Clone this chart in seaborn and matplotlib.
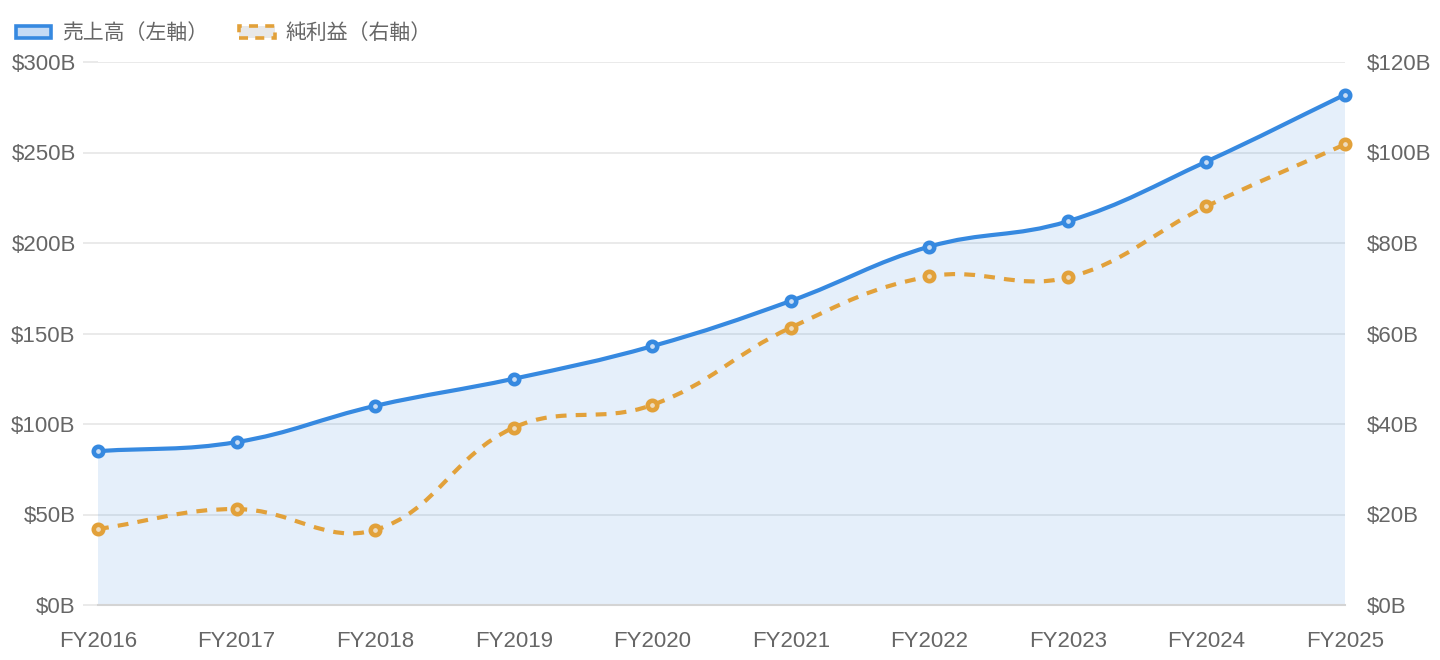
import numpy as np
import matplotlib
matplotlib.use('Agg')
import matplotlib.pyplot as plt
import seaborn as sns
from matplotlib.path import Path
from matplotlib.patches import PathPatch, Patch
from matplotlib.ticker import FuncFormatter, MultipleLocator

# ── Data ──────────────────────────────────────────────────────────────────
years      = ['FY2016', 'FY2017', 'FY2018', 'FY2019', 'FY2020',
              'FY2021', 'FY2022', 'FY2023', 'FY2024', 'FY2025']
revenue    = [85, 90, 110, 125, 143, 168, 198, 212, 245, 282]          # $B, left axis
net_income = [16.8, 21.2, 16.6, 39.2, 44.2, 61.3, 72.6, 72.4, 88.1, 101.8]  # $B, right axis
rev_label  = '売上高（左軸）'
ni_label   = '純利益（右軸）'

BLUE   = '#3689E0'
ORANGE = '#E2A13A'
FILL   = (0.21, 0.54, 0.88, 0.13)
TXT    = '#666666'
GRID   = '#E6E6E6'
FS     = 16

sns.set_theme(style='white')
plt.rcParams['font.family'] = ['Liberation Sans', 'Noto Sans CJK JP', 'DejaVu Sans']


def spline_path(axis, xs, ys, tension=0.4, close=False):
    """Chart.js style bezier through the points, built in display space."""
    pts = axis.transData.transform(np.column_stack([xs, ys]))
    n = len(pts)
    cp_in, cp_out = [], []
    for i in range(n):
        prev, cur, nxt = pts[max(i - 1, 0)], pts[i], pts[min(i + 1, n - 1)]
        d01 = np.hypot(*(cur - prev))
        d12 = np.hypot(*(nxt - cur))
        tot = d01 + d12
        fa = tension * (d01 / tot if tot else 0)
        fb = tension * (d12 / tot if tot else 0)
        cp_in.append(cur - fa * (nxt - prev))
        cp_out.append(cur + fb * (nxt - prev))
    verts = [pts[0]]
    codes = [Path.MOVETO]
    for i in range(1, n):
        verts += [cp_out[i - 1], cp_in[i], pts[i]]
        codes += [Path.CURVE4] * 3
    verts = list(axis.transData.inverted().transform(np.array(verts)))
    if close:
        verts += [(xs[-1], 0), (xs[0], 0), (xs[0], 0)]
        codes += [Path.LINETO, Path.LINETO, Path.CLOSEPOLY]
    return Path(np.array(verts), codes)


fig = plt.figure(figsize=(14.4, 6.6), dpi=100)
ax = fig.add_axes([98 / 1440, 55 / 660, 1247 / 1440, 543 / 660])
ax2 = ax.twinx()

x = np.arange(len(years))
ax.set_xlim(0, len(years) - 1)
ax.set_ylim(0, 300)
ax2.set_ylim(0, 120)

# revenue: filled area + smooth line
ax.add_patch(PathPatch(spline_path(ax, x, revenue, close=True),
                       facecolor=FILL, edgecolor='none', zorder=1))
ax.add_patch(PathPatch(spline_path(ax, x, revenue), fill=False,
                       edgecolor=BLUE, lw=3, capstyle='round', zorder=3))
sns.scatterplot(x=x, y=revenue, ax=ax, s=46, color='#C9DDF5',
                edgecolor=BLUE, linewidth=3.3, zorder=4, clip_on=False, legend=False)

# net income: dashed smooth line on right axis
ax2.add_patch(PathPatch(spline_path(ax2, x, net_income), fill=False,
                        edgecolor=ORANGE, lw=3, linestyle=(0, (2.6, 2.2)), zorder=3))
sns.scatterplot(x=x, y=net_income, ax=ax2, s=46, color='#EEDCBF',
                edgecolor=ORANGE, linewidth=3.3, zorder=4, clip_on=False, legend=False)

# axes styling
fmt = FuncFormatter(lambda v, _: f'${v:.0f}B')
ax.yaxis.set_major_locator(MultipleLocator(50))
ax.yaxis.set_major_formatter(fmt)
ax2.yaxis.set_major_locator(MultipleLocator(20))
ax2.yaxis.set_major_formatter(fmt)
ax.yaxis.grid(True, color=GRID, lw=1.2, zorder=0)
ax.xaxis.grid(False)
ax2.grid(False)
ax.set_axisbelow(True)

ax.set_xticks(x, years)
ax.tick_params(axis='x', length=0, pad=19, labelsize=FS, labelcolor=TXT)
ax.tick_params(axis='y', left=True, length=11, width=1.2, color=GRID, pad=5,
               labelsize=FS, labelcolor=TXT)
ax2.tick_params(axis='y', right=True, length=0, pad=16, labelsize=FS, labelcolor=TXT)

for a in (ax, ax2):
    for side in ('top', 'left', 'right', 'bottom'):
        a.spines[side].set_visible(False)
ax.spines['bottom'].set_visible(True)
ax.spines['bottom'].set_color('#D4D4D4')
ax.spines['bottom'].set_linewidth(1.5)

# legend
handles = [
    Patch(facecolor='#C5DBF5', edgecolor=BLUE, lw=2.6),
    Patch(facecolor='#E8E8E8', edgecolor=ORANGE, lw=2.6, linestyle=(0, (2.5, 2))),
]
fig.legend(handles, [rev_label, ni_label], loc='upper left',
           bbox_to_anchor=(16 / 1440, 1 - 22 / 660), ncol=2, frameon=False,
           prop={'family': ['Noto Sans CJK JP', 'DejaVu Sans'], 'size': 15},
           labelcolor=TXT, handlelength=1.7, handleheight=0.5,
           handletextpad=0.5, columnspacing=1.5, borderpad=0, borderaxespad=0)

fig.savefig('out.png', dpi=100)
